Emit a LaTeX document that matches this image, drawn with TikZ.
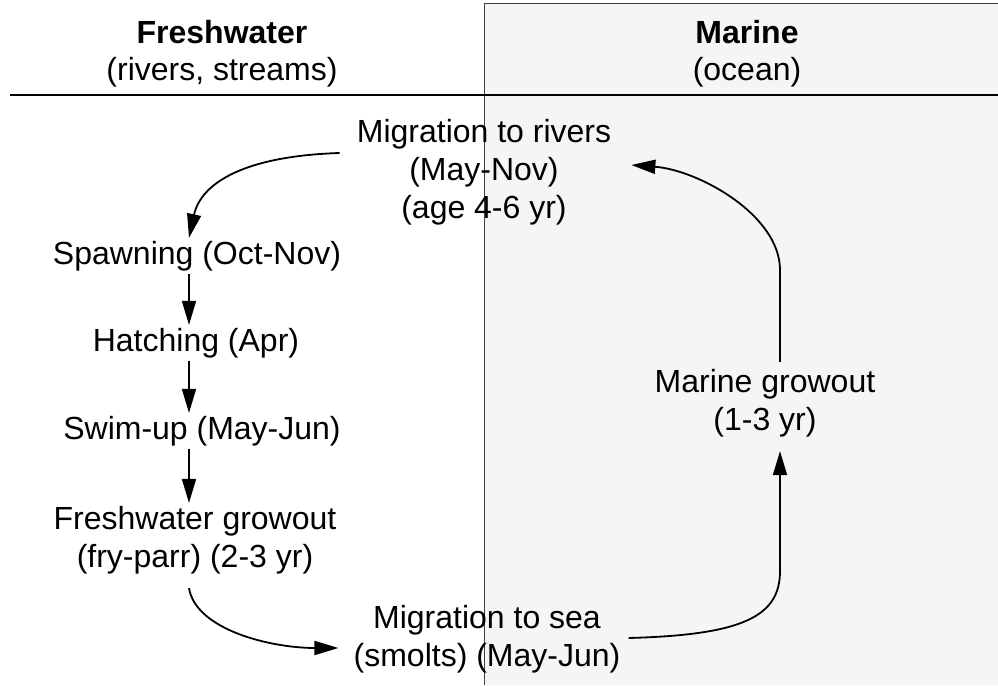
\documentclass[tikz,border=0pt]{standalone}
\usepackage{fontspec}
\setmainfont{Liberation Sans}
\usetikzlibrary{arrows.meta,calc}
\begin{document}
\begin{tikzpicture}[x=1pt,y=-1pt,
  lbl/.style={font=\fontsize{32}{38}\selectfont, align=center, inner sep=3pt},
  hdr/.style={font=\fontsize{32}{37}\selectfont, align=center, inner sep=3pt},
  arr/.style={line width=1.8pt, -{Triangle[length=24pt,width=14pt]}},
  rulebar/.style={line width=2pt},
  divider/.style={line width=0.9pt, black!75},
  marinebg/.style={fill=black!4}]
\useasboundingbox (0,0) rectangle (998,685);
\fill[marinebg] (484,3) rectangle (998,685);
\draw[divider] (484,685) -- (484,3) -- (998,3);
\draw[rulebar] (10,95) -- (998,95);

\node[hdr] (fwh) at (222,54) {\textbf{Freshwater}\\(rivers, streams)};
\node[hdr] (mah) at (747,54) {\textbf{Marine}\\(ocean)};

\node[lbl] (mr) at (484,172) {Migration to rivers\\(May-Nov)\\(age 4-6 yr)};
\node[lbl] (sp) at (197,256) {Spawning (Oct-Nov)};
\node[lbl] (ha) at (196,343) {Hatching (Apr)};
\node[lbl] (sw) at (202,431) {Swim-up (May-Jun)};
\node[lbl] (fg) at (195,540) {Freshwater growout\\(fry-parr) (2-3 yr)};
\node[lbl] (ms) at (487,639) {Migration to sea\\(smolts) (May-Jun)};
\node[lbl] (mg) at (765,403) {Marine growout\\(1-3 yr)};

\coordinate (ax) at (189,0);
\coordinate (vx) at (780,0);

\draw[arr] ($(mr.west)+(-14,-19)$) .. controls +(-95,3) and +(12,-55) .. (sp.north -| ax);
\draw[arr] (sp.south -| ax) -- (ha.north -| ax);
\draw[arr] (ha.south -| ax) -- (sw.north -| ax);
\draw[arr] (sw.south -| ax) -- (fg.north -| ax);
\draw[arr] ($(fg.south -| ax)+(0,11)$) .. controls +(7,42) and +(-67,0) .. ($(ms.west)+(-12,9)$);
\draw[arr] ($(ms.east)+(5,-1)$) .. controls +(115,-3) and +(0,45) .. ($(mg.south -| vx)+(0,131)$) -- ($(mg.south -| vx)+(0,11)$);
\draw[arr] ($(mg.north -| vx)+(0,-4)$) -- ($(mr.east -| vx)+(0,98)$) .. controls +(0,-55) and +(67,5) .. ($(mr.east)+(17,-7)$);
\end{tikzpicture}
\end{document}
